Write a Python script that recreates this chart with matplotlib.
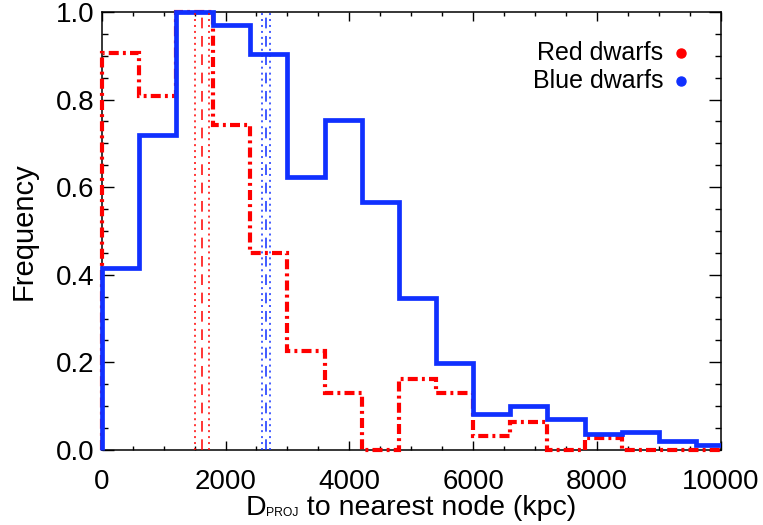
import matplotlib
matplotlib.use('Agg')
import matplotlib.pyplot as plt
from matplotlib.patches import Rectangle
from matplotlib.ticker import MultipleLocator
import numpy as np

plt.rcParams['font.family'] = ['Liberation Sans', 'DejaVu Sans']

# histogram bins (kpc), 600 kpc wide
bin_edges = np.arange(0, 10201, 600)

# normalised frequencies per bin
blue_freq = [0.415, 0.718, 1.0, 0.97, 0.904, 0.623, 0.753, 0.567, 0.346,
             0.199, 0.082, 0.101, 0.070, 0.037, 0.040, 0.021, 0.011]
red_freq = [0.906, 0.808, 1.0, 0.742, 0.45, 0.227, 0.129, 0.0, 0.161,
            0.129, 0.032, 0.065, 0.0, 0.028, 0.0, 0.0, 0.0]

# medians and their uncertainty range
red_median = 1625
red_range = [1507, 1738]
blue_median = 2649
blue_range = [2585, 2714]

blue = '#1030ff'
red = '#ff0000'

fig = plt.figure(figsize=(7.63, 5.25), dpi=100)
ax = fig.add_axes([0.1333, 0.1429, 0.8113, 0.8343])

# clip slightly outside the frame so the thick outlines sit on the axes
clip = Rectangle((-0.012, -0.02), 1.012, 1.04, transform=ax.transAxes,
                 facecolor='none', edgecolor='none')

st_r = ax.stairs(red_freq, bin_edges, color=red, lw=3.0,
                 linestyle=(0, (2.4, 1.0, 0.7, 1.0)), zorder=3)
st_b = ax.stairs(blue_freq, bin_edges, color=blue, lw=3.4, zorder=4)
for s in (st_b, st_r):
    s.set_clip_path(clip)

for x in red_range:
    ax.axvline(x, color=red, lw=1.1, linestyle=(0, (1.3, 2.6)), zorder=5)
ax.axvline(red_median, color=red, lw=1.1, linestyle=(0, (7, 5)), zorder=5)
for x in blue_range:
    ax.axvline(x, color=blue, lw=1.1, linestyle=(0, (1.3, 2.6)), zorder=5)
ax.axvline(blue_median, color=blue, lw=1.1, linestyle=(0, (7, 5)), zorder=5)

ax.set_xlim(0, 10000)
ax.set_ylim(0, 1.0)

ax.xaxis.set_major_locator(MultipleLocator(2000))
ax.xaxis.set_minor_locator(MultipleLocator(500))
ax.yaxis.set_major_locator(MultipleLocator(0.2))
ax.yaxis.set_minor_locator(MultipleLocator(0.05))
ax.set_yticklabels([f'{v:.1f}' for v in ax.get_yticks()])
ax.set_xticklabels([f'{int(v)}' for v in ax.get_xticks()])

ax.tick_params(axis='x', which='major', direction='in', length=6.2, width=1.0,
               top=True, labelsize=20, pad=13.5)
ax.tick_params(axis='x', which='minor', direction='in', length=3.2, width=1.0,
               top=True)
ax.tick_params(axis='y', which='major', direction='in', length=8.6, width=1.0,
               right=True, labelsize=20, pad=5)
ax.tick_params(axis='y', which='minor', direction='in', length=4.3, width=1.0,
               right=True)
for sp in ax.spines.values():
    sp.set_linewidth(1.1)

ax.set_ylabel('Frequency', fontsize=21, labelpad=13)

# x label built from pieces so the subscript can be small
renderer = fig.canvas.get_renderer()
base_y = 0.019
parts = [('D', 20.5, 0.0), ('PROJ', 8.7, -0.002), (' to nearest node (kpc)', 20.5, 0.0)]
texts = [fig.text(0, base_y + dy, s, fontsize=fs, va='baseline', ha='left')
         for s, fs, dy in parts]
widths = [t.get_window_extent(renderer).width / fig.bbox.width for t in texts]
x0 = 0.5384 - sum(widths) / 2
for t, w in zip(texts, widths):
    t.set_x(x0)
    x0 += w

# legend: labels with coloured dots
ax.text(0.907, 0.906, 'Red dwarfs', transform=ax.transAxes, ha='right',
        va='center', fontsize=18)
ax.text(0.907, 0.842, 'Blue dwarfs', transform=ax.transAxes, ha='right',
        va='center', fontsize=18)
ax.plot([0.936], [0.906], 'o', color=red, ms=6.5, transform=ax.transAxes)
ax.plot([0.936], [0.842], 'o', color=blue, ms=6.5, transform=ax.transAxes)

fig.savefig('out.png', dpi=100)
